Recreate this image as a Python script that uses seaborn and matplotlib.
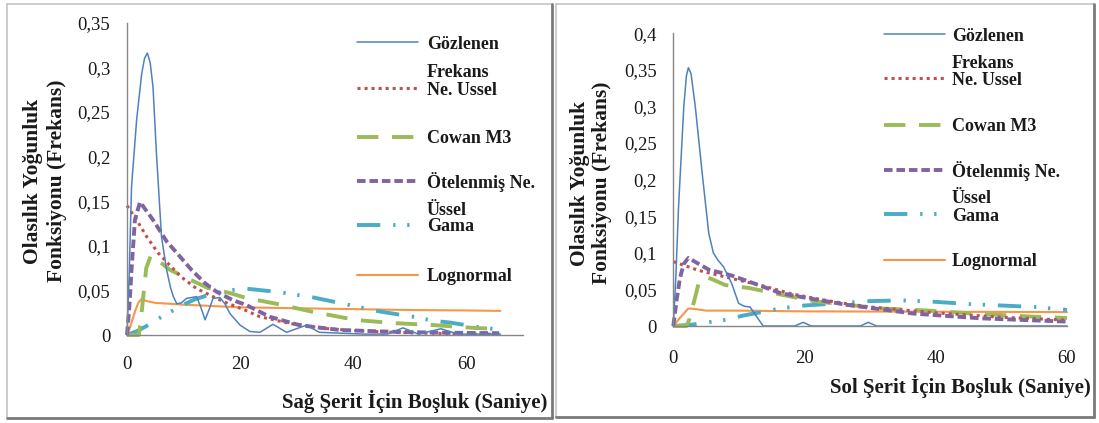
import matplotlib
matplotlib.use("Agg")
import matplotlib.pyplot as plt
import seaborn as sns
import pandas as pd
from matplotlib.lines import Line2D

# ---------------- data ----------------
series_names = ["Gözlenen Frekans", "Ne. Ussel", "Cowan M3", "Ötelenmiş Ne. Üssel", "Gama", "Lognormal"]
x_ticks = [0, 20, 40, 60]
left_y_ticks = [0, 0.05, 0.1, 0.15, 0.2, 0.25, 0.3, 0.35]
right_y_ticks = [0, 0.05, 0.1, 0.15, 0.2, 0.25, 0.3, 0.35, 0.4]
left_xlabel = "Sağ Şerit İçin Boşluk (Saniye)"
right_xlabel = "Sol Şerit İçin Boşluk (Saniye)"
ylabel_lines = ["Olasılık Yoğunluk", "Fonksiyonu (Frekans)"]

# Left panel (Sağ şerit)
L_obs_x = [0, 0.4, 0.8, 1.7, 2.6, 3.1, 3.6, 4.1, 4.6, 5.2, 6.1, 7.0, 7.7, 8.2, 8.8, 9.6, 10.5, 12.3, 13.0, 13.8,
           14.6, 15.2, 16.4, 17.3, 18.2, 20.0, 21.7, 23.5, 25.8, 28.2, 31.7, 34.0, 38.0, 42.0, 46.0, 48.8, 51.5,
           55.5, 58.5, 62.0, 66.0]
L_obs_y = [0, 0.07, 0.166, 0.241, 0.293, 0.310, 0.316, 0.305, 0.278, 0.204, 0.110, 0.073, 0.053, 0.043, 0.035,
           0.036, 0.041, 0.043, 0.032, 0.017, 0.030, 0.041, 0.042, 0.035, 0.024, 0.011, 0.004, 0.003, 0.012, 0.003,
           0.011, 0.003, 0.002, 0.001, 0.001, 0.008, 0.001, 0.007, 0.001, 0.001, 0.001]
L_exp_x = [0, 1.7, 3.5, 5.5, 7.6, 9.6, 12.3, 15.2, 17.6, 20.8, 23.5, 28.8, 34.6, 40, 45, 50, 55, 60, 66]
L_exp_y = [0.145, 0.129, 0.110, 0.092, 0.078, 0.065, 0.052, 0.043, 0.036, 0.028, 0.0205, 0.013, 0.0075, 0.0050,
           0.0035, 0.0025, 0.0018, 0.0012, 0.0008]
L_cow_x = [0, 2.1, 2.5, 3.4, 4.2, 5.0, 7.6, 10.5, 14.3, 18.2, 21.1, 26.4, 32.8, 40.5, 47, 54, 61.7, 66]
L_cow_y = [0, 0, 0.02, 0.075, 0.089, 0.086, 0.073, 0.064, 0.0527, 0.047, 0.0415, 0.035, 0.026, 0.0168, 0.0134,
           0.0112, 0.0078, 0.0068]
L_sh_x = [0, 0.4, 0.8, 1.4, 2.3, 4.6, 7.0, 9.35, 11.4, 13.8, 15.8, 18.7, 21.1, 25.2, 30.5, 37.6, 46.4, 55.2, 65.8]
L_sh_y = [0, 0.030, 0.073, 0.129, 0.149, 0.129, 0.105, 0.088, 0.073, 0.058, 0.0486, 0.039, 0.0336, 0.0205,
          0.011, 0.0056, 0.0037, 0.0026, 0.002]
L_gam_x = [0, 2, 4, 6, 8, 10, 12, 15, 18, 21, 24, 27, 30, 33, 36, 39, 42, 45, 48, 51, 54, 57, 60, 63, 66]
L_gam_y = [0, 0.005, 0.012, 0.020, 0.027, 0.034, 0.040, 0.046, 0.050, 0.052, 0.050, 0.048, 0.045, 0.042, 0.038,
           0.034, 0.030, 0.026, 0.023, 0.020, 0.016, 0.014, 0.011, 0.008, 0.006]
L_log_x = [0, 0.5, 1, 1.5, 2, 2.5, 3.5, 5, 10, 20, 30, 40, 50, 60, 66]
L_log_y = [0, 0.008, 0.018, 0.028, 0.036, 0.040, 0.038, 0.036, 0.034, 0.031, 0.030, 0.029, 0.028, 0.0275, 0.027]

# Right panel (Sol şerit)
R_obs_x = [0, 0.4, 0.8, 1.6, 2.0, 2.3, 2.7, 3.35, 4.4, 5.4, 6.1, 6.8, 7.65, 8.9, 9.95, 10.8, 11.7, 12.7, 13.7,
           18.5, 19.8, 21.0, 28.5, 29.7, 31.0, 40, 50, 60]
R_obs_y = [0, 0.07, 0.163, 0.300, 0.342, 0.353, 0.345, 0.300, 0.209, 0.127, 0.100, 0.090, 0.081, 0.058, 0.031,
           0.027, 0.026, 0.0127, 0, 0, 0.005, 0, 0, 0.005, 0, 0, 0, 0]
R_exp_x = [0, 3.85, 8.9, 14, 18, 22, 26, 30, 35, 40, 45, 50, 55, 60]
R_exp_y = [0.088, 0.076, 0.065, 0.054, 0.044, 0.037, 0.031, 0.026, 0.022, 0.018, 0.015, 0.012, 0.010, 0.008]
R_cow_x = [0, 2.0, 2.4, 3.35, 3.85, 4.9, 5.9, 7.9, 11.5, 18, 21.4, 31.5, 39, 45.7, 54.4, 60]
R_cow_y = [0, 0, 0.008, 0.040, 0.058, 0.067, 0.064, 0.056, 0.052, 0.040, 0.034, 0.024, 0.021, 0.017, 0.013, 0.011]
R_sh_x = [0, 0.5, 1.0, 1.6, 2.3, 5.4, 8.9, 13, 16.3, 19.3, 26.4, 36.6, 46.8, 60]
R_sh_y = [0, 0.035, 0.065, 0.085, 0.093, 0.077, 0.069, 0.056, 0.045, 0.040, 0.029, 0.017, 0.0105, 0.006]
R_gam_x = [0, 3, 6, 8.5, 10.5, 14, 16.3, 20, 25, 30, 35, 40, 45, 50, 55, 60]
R_gam_y = [0, 0.002, 0.006, 0.009, 0.014, 0.020, 0.024, 0.028, 0.031, 0.034, 0.035, 0.033, 0.030, 0.028, 0.026,
           0.022]
R_log_x = [0, 1, 2.3, 3.5, 5, 10, 20, 40, 60]
R_log_y = [0, 0.011, 0.024, 0.023, 0.021, 0.021, 0.020, 0.0195, 0.019]

# ---------------- styles ----------------
styles = [
    dict(color="#4F81BD", linewidth=1.1, linestyle="-"),
    dict(color="#C0504D", linewidth=2.2, linestyle=(0, (1, 1.3))),
    dict(color="#9BBB59", linewidth=2.8, linestyle=(0, (5.5, 3.5))),
    dict(color="#8064A2", linewidth=2.8, linestyle=(0, (2.2, 1.0))),
    dict(color="#4BACC6", linewidth=2.8, linestyle=(0, (6, 3.3, 0.6, 3.0, 0.6, 3.3))),
    dict(color="#F79646", linewidth=1.5, linestyle="-"),
]

W, H = 1099, 423
sns.set_theme(style="white")
plt.rcParams["font.family"] = ["Liberation Serif", "DejaVu Serif"]

fig = plt.figure(figsize=(W / 100, H / 100), dpi=100)
fig.patch.set_facecolor("white")


def fx(px):
    return px / W


def fy(py):
    return 1 - py / H


# panel frames
def frame(x0, y0, x1, y1):
    fig.add_artist(Line2D([fx(x0), fx(x1)], [fy(y0), fy(y0)], transform=fig.transFigure, color="#c4c4c4", lw=1.2))
    fig.add_artist(Line2D([fx(x0), fx(x0)], [fy(y0), fy(y1)], transform=fig.transFigure, color="#c4c4c4", lw=1.2))
    fig.add_artist(Line2D([fx(x1), fx(x1)], [fy(y0), fy(y1)], transform=fig.transFigure, color="#7a7a7a", lw=2.0))
    fig.add_artist(Line2D([fx(x0), fx(x1)], [fy(y1), fy(y1)], transform=fig.transFigure, color="#7a7a7a", lw=2.0))


frame(7, 4, 551.5, 417.5)
frame(556, 4, 1093.5, 417)

axL = fig.add_axes([fx(127), fy(335), (523 - 127) / W, (335 - 22.7) / H])
axR = fig.add_axes([fx(673.3), fy(326), (1067 - 673.3) / W, (326 - 33.3) / H])

left_data = [(L_obs_x, L_obs_y), (L_exp_x, L_exp_y), (L_cow_x, L_cow_y), (L_sh_x, L_sh_y),
             (L_gam_x, L_gam_y), (L_log_x, L_log_y)]
right_data = [(R_obs_x, R_obs_y), (R_exp_x, R_exp_y), (R_cow_x, R_cow_y), (R_sh_x, R_sh_y),
              (R_gam_x, R_gam_y), (R_log_x, R_log_y)]

draw_order = [5, 4, 2, 1, 3, 0]
for ax, data in ((axL, left_data), (axR, right_data)):
    for i in draw_order:
        xs, ys = data[i]
        df = pd.DataFrame({"x": xs, "y": ys})
        sns.lineplot(data=df, x="x", y="y", ax=ax, estimator=None, sort=False, errorbar=None,
                     legend=False, clip_on=False, **styles[i])


def fmt(v):
    s = ("%g" % v).replace(".", ",")
    return s


def style_axes(ax, ylim, xlim, yticks, xpad):
    ax.set_xlim(*xlim)
    ax.set_ylim(*ylim)
    ax.set_xticks(x_ticks)
    ax.set_xticklabels([fmt(t) for t in x_ticks])
    ax.set_yticks(yticks)
    ax.set_yticklabels([fmt(t) for t in yticks])
    ax.set_xlabel("")
    ax.set_ylabel("")
    for s in ("top", "right"):
        ax.spines[s].set_visible(False)
    for s in ("left", "bottom"):
        ax.spines[s].set_color("#878787")
        ax.spines[s].set_linewidth(1.0)
    ax.tick_params(axis="both", direction="out", length=5, width=1.0, color="#878787",
                   labelsize=13.5, labelcolor="#1a1a1a")
    ax.tick_params(axis="x", pad=xpad)
    ax.tick_params(axis="y", pad=7)
    ax.set_facecolor("none")


style_axes(axL, (0, 0.35), (0, 70), left_y_ticks, 10)
style_axes(axR, (0, 0.4), (0, 60), right_y_ticks, 12)

# axis labels
txtc = "#1a1a1a"
fig.text(fx(415), fy(401), left_xlabel, ha="center", va="center", fontsize=15, fontweight="bold", color=txtc)
fig.text(fx(960), fy(386), right_xlabel, ha="center", va="center", fontsize=15, fontweight="bold", color=txtc)
for (xa, xb, yc) in ((33, 57, 181), (580, 602, 183)):
    fig.text(fx(xa), fy(yc), ylabel_lines[0], rotation=90, ha="center", va="center",
             fontsize=15.5, fontweight="bold", color=txtc)
    fig.text(fx(xb), fy(yc), ylabel_lines[1], rotation=90, ha="center", va="center",
             fontsize=15.5, fontweight="bold", color=txtc)

# legends (label lines: first line next to handle, wrapped line below)
legend_lines = [["Gözlenen", "Frekans"], ["Ne. Ussel"], ["Cowan M3"], ["Ötelenmiş Ne.", "Üssel"], ["Gama"],
                ["Lognormal"]]
left_leg = dict(x0=357, x1=418, tx=427, base=[49, 95, 143, 188, 231, 281], wrap=[77, None, None, 215, None, None])
right_leg = dict(x0=884, x1=945, tx=952, base=[41, 85, 131, 177, 221, 266], wrap=[68, None, None, 203, None, None])
for leg in (left_leg, right_leg):
    for i in range(6):
        b = leg["base"][i]
        ly = b - 6.5
        fig.add_artist(Line2D([fx(leg["x0"]), fx(leg["x1"])], [fy(ly), fy(ly)], transform=fig.transFigure,
                              **styles[i]))
        fig.text(fx(leg["tx"]), fy(b), legend_lines[i][0], ha="left", va="baseline", fontsize=13,
                 fontweight="bold", color=txtc)
        if leg["wrap"][i] is not None:
            fig.text(fx(leg["tx"]), fy(leg["wrap"][i]), legend_lines[i][1], ha="left", va="baseline",
                     fontsize=13, fontweight="bold", color=txtc)

fig.savefig("out.png", dpi=100, facecolor="white")
